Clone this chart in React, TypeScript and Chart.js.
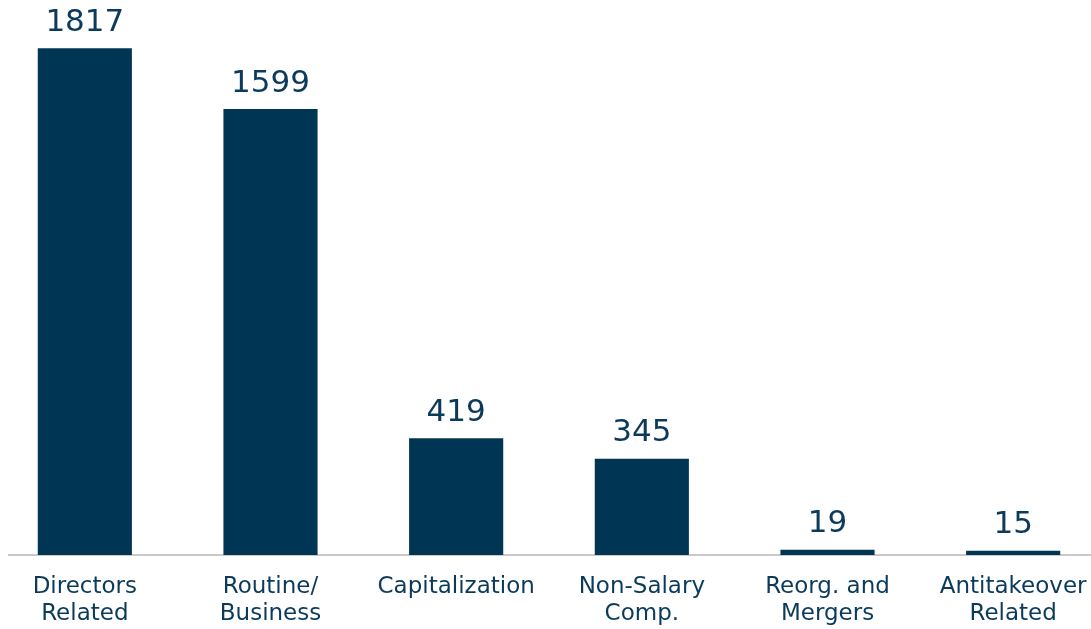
import React, { useEffect, useRef } from "react";
import { Chart, registerables } from "chart.js";

Chart.register(...registerables);

const categories: string[][] = [
  ["Directors", "Related"],
  ["Routine/", "Business"],
  ["Capitalization"],
  ["Non-Salary", "Comp."],
  ["Reorg. and", "Mergers"],
  ["Antitakeover", "Related"],
];
const values: number[] = [1817, 1599, 419, 345, 19, 15];
const yMax = 1990;

const BAR = "#003653";
const TEXT = "#0b3a5b";

const valueLabels = {
  id: "valueLabels",
  afterDatasetsDraw(chart: any) {
    const ctx = chart.ctx;
    const meta = chart.getDatasetMeta(0);
    ctx.save();
    ctx.font = "31px 'DejaVu Sans'";
    ctx.fillStyle = TEXT;
    ctx.textAlign = "center";
    ctx.textBaseline = "alphabetic";
    meta.data.forEach((bar: any, i: number) => {
      ctx.fillText(String(values[i]), bar.x, bar.y - 17.5);
    });
    ctx.restore();
  },
};

export default function App() {
  const ref = useRef<HTMLCanvasElement | null>(null);
  useEffect(() => {
    if (!ref.current) return;
    const chart = new Chart(ref.current, {
      type: "bar",
      data: {
        labels: categories,
        datasets: [
          {
            data: values,
            backgroundColor: BAR,
            borderWidth: 0,
            barPercentage: 1,
            categoryPercentage: 0.507,
          },
        ],
      },
      options: {
        animation: false,
        responsive: false,
        maintainAspectRatio: false,
        layout: { padding: 0 },
        plugins: { legend: { display: false }, tooltip: { enabled: false } },
        scales: {
          x: {
            grid: { display: false, drawTicks: false },
            border: { display: true, color: "#c9c9c9", width: 2 },
            ticks: {
              color: TEXT,
              font: { family: "'DejaVu Sans'", size: 23, lineHeight: 1.2 },
              padding: 18,
              maxRotation: 0,
              autoSkip: false,
            },
            afterFit: (scale: any) => {
              scale.height = 74;
            },
          },
          y: {
            display: false,
            min: 0,
            max: yMax,
          },
        },
      },
      plugins: [valueLabels],
    });
    return () => chart.destroy();
  }, []);

  return (
    <div
      style={{
        position: "absolute",
        left: 8,
        top: 0,
        width: 1083,
        height: 629,
        overflow: "hidden",
        background: "#ffffff",
      }}
    >
      <canvas
        ref={ref}
        width={1114}
        height={629}
        style={{ position: "absolute", left: -16, top: 0, width: 1114, height: 629 }}
      />
    </div>
  );
}
